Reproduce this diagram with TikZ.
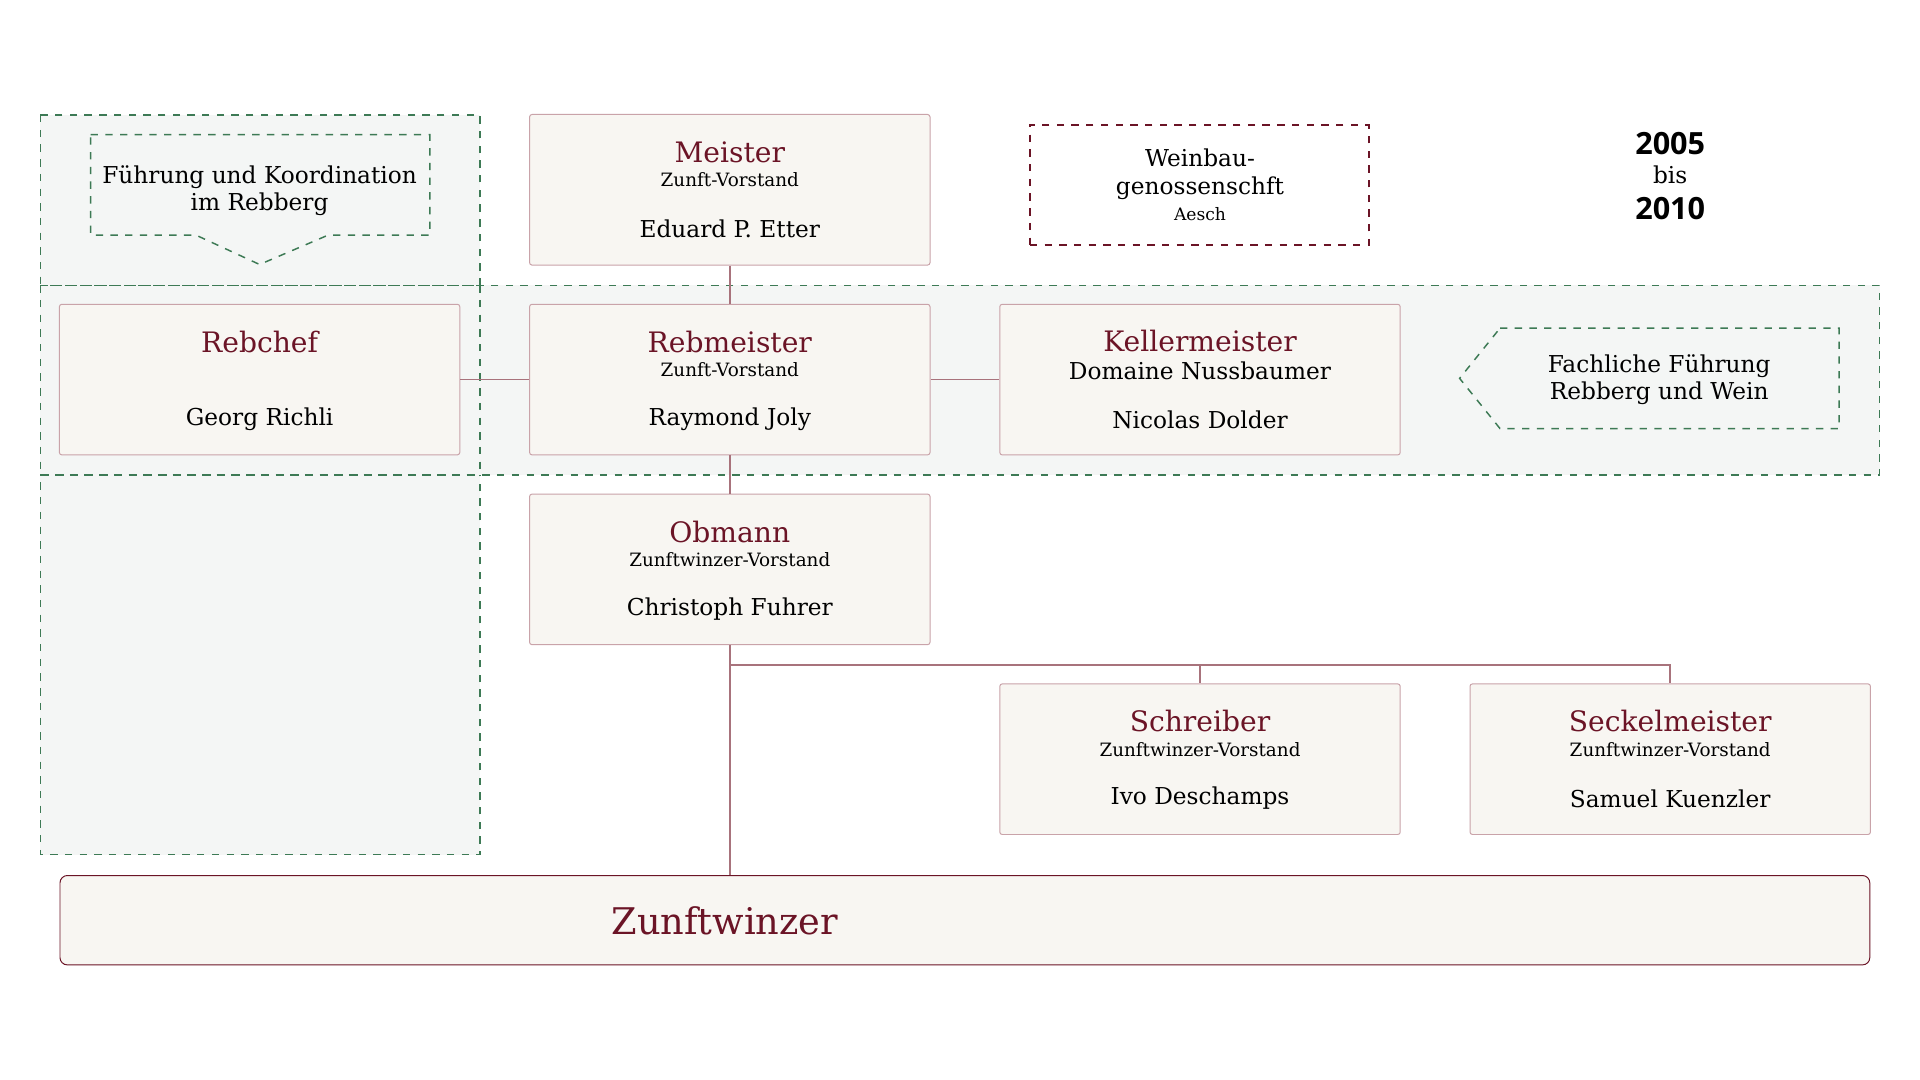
\documentclass[tikz,border=0pt]{standalone}
\usepackage{fontspec}
\setmainfont{DejaVu Serif}
\newfontfamily\yr{Open Sans}
\definecolor{wine}{HTML}{6B1426}
\definecolor{bord}{HTML}{C9A3A9}
\definecolor{lin}{HTML}{A8737C}
\definecolor{boxf}{HTML}{F8F6F2}
\definecolor{grn}{HTML}{3D7A55}
\definecolor{regf}{HTML}{F4F6F5}
\begin{document}
\begin{tikzpicture}[x=0.5pt,y=-0.5pt,
  box/.style={draw=bord,fill=boxf,rounded corners=1pt,minimum width=163.5pt,minimum height=61.5pt,inner sep=0pt},
  ttl/.style={text=wine,font=\fontsize{11.5}{13}\selectfont},
  sub/.style={font=\fontsize{7.5}{9}\selectfont},
  nam/.style={font=\fontsize{9.5}{11}\selectfont},
  reg/.style={draw=grn,dashed,fill=regf,line width=0.6pt},
  con/.style={draw=lin,line width=0.6pt}]
\useasboundingbox (0,0) rectangle (1568,882);
\fill[white] (0,0) rectangle (1568,882);
% regions
\path[reg] (33,94) rectangle (392,698);
\path[reg] (33,233) rectangle (1535,388);
\draw[grn,dashed,line width=0.6pt] (33,233) -- (392,233) (33,388) -- (392,388) (392,233) -- (392,388);
\draw[grn,dashed,line width=0.6pt,fill=regf] (74,110) -- (351,110) -- (351,192) -- (268,192) -- (212,216) -- (160,192) -- (74,192) -- cycle;
\node[align=center,nam] (c1) at (212,156) {Führung und Koordination\\im Rebberg};
\draw[grn,dashed,line width=0.6pt,fill=regf] (1225,268) -- (1502,268) -- (1502,350) -- (1225,350) -- (1192,309) -- cycle;
\node[align=center,nam] (c2) at (1355,310) {Fachliche Führung\\Rebberg und Wein};
% boxes
\node[box] (meister) at (596,155) {};
\node[box] (rebchef) at (212,310) {};
\node[box] (rebm) at (596,310) {};
\node[box] (keller) at (980,310) {};
\node[box] (obm) at (596,465) {};
\node[box] (schr) at (980,620) {};
\node[box] (seck) at (1364,620) {};
\node[draw=wine,fill=boxf,rounded corners=3pt,minimum width=739pt,minimum height=36.5pt,inner sep=0pt] (zw) at (788,751.5) {};
\node[draw=wine,dashed,line width=0.8pt,fill=white,minimum width=138.5pt,minimum height=49pt,inner sep=0pt] (wb) at (979.5,151) {};
% connectors
\coordinate (br) at (596,543);
\path[con] (meister.south) -- (rebm.north);
\path[con] (rebchef.east) -- (rebm.west);
\path[con] (rebm.east) -- (keller.west);
\path[con] (rebm.south) -- (obm.north);
\path[con] (obm.south) -- (zw.north -| obm.south);
\path[con] (br) -| (schr.north);
\path[con] (br) -| (seck.north);
% texts
\foreach \n/\t/\s/\m in {meister/Meister/Zunft-Vorstand/Eduard P. Etter,
  rebm/Rebmeister/Zunft-Vorstand/Raymond Joly,
  obm/Obmann/Zunftwinzer-Vorstand/Christoph Fuhrer,
  schr/Schreiber/Zunftwinzer-Vorstand/Ivo Deschamps,
  seck/Seckelmeister/Zunftwinzer-Vorstand/Samuel Kuenzler}{
  \node[ttl] (\n-t) at ([yshift=-15.5pt]\n.north) {\t};
  \node[sub] (\n-s) at ([yshift=-27pt]\n.north) {\s};
  \node[nam] (\n-m) at ([yshift=-47pt]\n.north) {\m};
}
\node[ttl] (rebchef-t) at ([yshift=-15.5pt]rebchef.north) {Rebchef};
\node[nam] (rebchef-m) at ([yshift=-47pt]rebchef.north) {Georg Richli};
\node[ttl] (keller-t) at ([yshift=-15pt]keller.north) {Kellermeister};
\node[nam] (keller-s) at ([yshift=-27.5pt]keller.north) {Domaine Nussbaumer};
\node[nam] (keller-m) at ([yshift=-47.5pt]keller.north) {Nicolas Dolder};
\node[text=wine,font=\fontsize{15}{17}\selectfont] (zw-t) at (592,752) {Zunftwinzer};
\node[align=center,font=\fontsize{9.5}{11.5}\selectfont] (wb-t) at (980,142) {Weinbau-\\genossenschft};
\node[font=\fontsize{7}{8}\selectfont] (wb-s) at (980,175) {Aesch};
\node[font=\yr\bfseries\fontsize{12.5}{14}\selectfont] (y1) at (1364,117) {2005};
\node[font=\fontsize{9.5}{11}\selectfont] (y2) at (1364,143) {bis};
\node[font=\yr\bfseries\fontsize{12.5}{14}\selectfont] (y3) at (1364,170) {2010};
\end{tikzpicture}
\end{document}
